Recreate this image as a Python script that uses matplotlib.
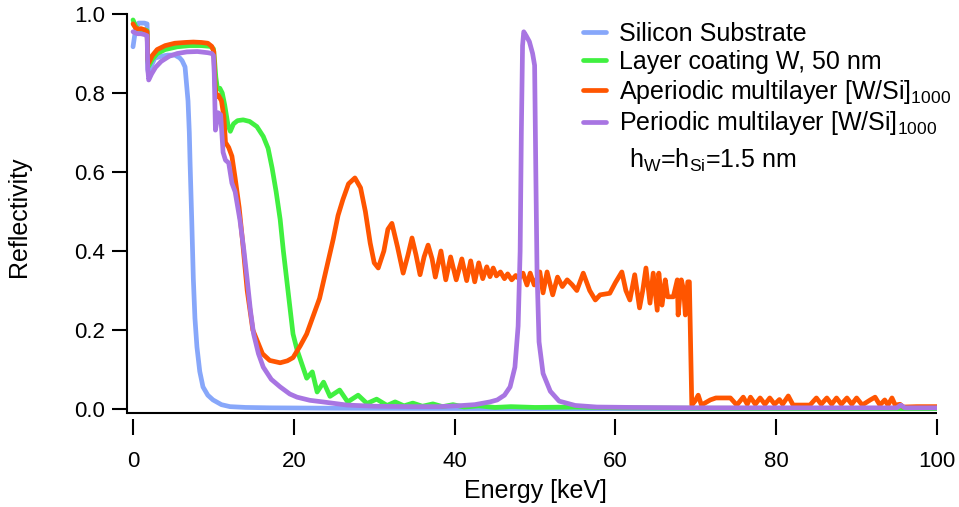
import matplotlib
matplotlib.use("Agg")
import matplotlib.pyplot as plt

plt.rcParams["font.family"] = ["Liberation Sans", "DejaVu Sans"]
plt.rcParams["mathtext.fontset"] = "custom"
plt.rcParams["mathtext.rm"] = "Liberation Sans"
plt.rcParams["mathtext.it"] = "Liberation Sans:italic"
plt.rcParams["mathtext.bf"] = "Liberation Sans:bold"

# ---- reflectivity curves (energy in keV) ----
si_e = [0, 0.2, 0.4, 0.7, 1.0, 1.4, 1.75, 1.84, 1.95, 2.2, 2.7, 3.5, 4.3, 5.2, 5.8,
        6.1, 6.47, 6.84, 7.0, 7.1, 7.3, 7.5, 7.7, 7.95, 8.3, 8.7, 9.3, 9.95, 11.0,
        12.06, 14.0, 17.0, 25.0, 35.0, 50.0, 70.0, 100.0]
si_r = [0.917, 0.945, 0.97, 0.977, 0.977, 0.977, 0.975, 0.86, 0.845, 0.865, 0.888,
        0.893, 0.896, 0.896, 0.889, 0.882, 0.866, 0.78, 0.70, 0.62, 0.48, 0.33, 0.23,
        0.157, 0.095, 0.056, 0.035, 0.023, 0.011, 0.006, 0.004, 0.003, 0.002, 0.0015,
        0.001, 0.001, 0.001]

w_e = [0, 0.3, 0.6, 1.0, 1.4, 1.75, 1.84, 1.95, 2.4, 3.0, 4.0, 5.5, 7.0, 8.5, 9.6,
       10.0, 10.15, 10.3, 10.5, 10.8, 11.1, 11.4, 11.8, 12.1, 12.5, 13.0, 13.7, 14.5,
       15.4, 16.2, 16.8, 17.3, 17.8, 18.3, 18.7, 19.1, 19.5, 19.9, 20.4, 20.9, 21.6,
       22.3, 22.9, 23.7, 24.5, 25.7, 26.7, 28.0, 29.1, 30.3, 31.6, 32.6, 33.7, 34.8,
       36.0, 37.3, 38.5, 39.8, 41.2, 43.0, 45.0, 47.0, 50.0, 55.0, 60.0, 70.0, 100.0]
w_r = [0.985, 0.97, 0.962, 0.96, 0.96, 0.958, 0.88, 0.868, 0.885, 0.9, 0.91, 0.917,
       0.92, 0.92, 0.918, 0.912, 0.88, 0.84, 0.81, 0.812, 0.80, 0.77, 0.72, 0.703,
       0.722, 0.73, 0.732, 0.728, 0.715, 0.69, 0.66, 0.61, 0.55, 0.48, 0.40, 0.33,
       0.26, 0.19, 0.15, 0.12, 0.078, 0.094, 0.043, 0.068, 0.032, 0.048, 0.018,
       0.035, 0.014, 0.025, 0.009, 0.018, 0.008, 0.015, 0.007, 0.013, 0.006, 0.011,
       0.005, 0.008, 0.004, 0.006, 0.004, 0.005, 0.003, 0.002, 0.001]

ap_e = [0, 0.3, 0.6, 1.0, 1.4, 1.75, 1.84, 1.95, 2.4, 3.0, 4.0, 5.2, 6.5, 7.5, 8.5,
        9.3, 9.8, 10.05, 10.2, 10.35, 10.6, 11.0, 11.3, 11.5, 11.9, 12.3, 12.7, 13.2,
        13.6, 14.2, 14.9, 16.1, 17.0, 18.3, 19.2, 19.9, 20.8, 21.6, 22.4, 23.2, 24.1,
        24.9, 25.5, 26.1, 26.8, 27.6, 28.3, 28.9, 29.5, 30.0, 30.5, 31.2, 31.7, 32.2,
        32.9, 33.6, 34.2, 34.7, 35.2, 35.7, 36.2, 36.7, 37.2, 37.6, 38.3, 38.9, 39.5,
        40.2, 40.9, 41.5, 42.0, 42.5, 43.0, 43.5, 44.0, 44.4, 44.8, 45.2, 45.7, 46.2,
        46.6, 47.1, 47.6, 48.0, 48.5, 49.0, 49.4, 49.9, 50.6, 51.0, 51.5, 52.2, 52.8,
        53.4, 54.0, 54.6, 55.2, 56.0, 56.8, 57.5, 58.1, 59.3, 60.0, 60.8, 61.3, 61.8,
        62.4, 63.0, 63.4, 63.8, 64.3, 64.7, 65.2, 65.4, 65.8, 66.2, 66.5, 67.2, 67.5,
        67.7, 67.8, 68.2, 68.5, 68.7, 69.0, 69.2, 69.5, 69.9, 70.3, 70.7, 71.8, 72.5,
        74.3, 75.1, 75.9, 76.4, 76.8, 77.4, 78.0, 78.6, 79.2, 79.8, 80.4, 80.8, 81.5,
        82.1, 83.3, 84.2, 85.0, 85.6, 86.3, 86.9, 87.5, 88.1, 88.8, 89.4, 90.0, 90.7,
        91.7, 92.3, 92.9, 93.5, 93.9, 94.4, 94.8, 95.4, 95.8, 97.5, 100.0]
ap_r = [0.975, 0.965, 0.962, 0.963, 0.96, 0.955, 0.885, 0.876, 0.895, 0.91, 0.92,
        0.926, 0.928, 0.929, 0.928, 0.926, 0.918, 0.905, 0.82, 0.79, 0.795, 0.78,
        0.74, 0.675, 0.662, 0.64, 0.585, 0.51, 0.43, 0.30, 0.20, 0.14, 0.123, 0.117,
        0.122, 0.13, 0.16, 0.19, 0.235, 0.28, 0.36, 0.43, 0.49, 0.53, 0.57, 0.585,
        0.56, 0.50, 0.42, 0.37, 0.357, 0.40, 0.455, 0.47, 0.41, 0.344, 0.39, 0.433,
        0.39, 0.34, 0.385, 0.415, 0.38, 0.334, 0.40, 0.327, 0.385, 0.327, 0.38, 0.325,
        0.375, 0.322, 0.37, 0.33, 0.36, 0.335, 0.357, 0.337, 0.347, 0.33, 0.342,
        0.327, 0.338, 0.33, 0.344, 0.314, 0.344, 0.314, 0.347, 0.294, 0.347, 0.289,
        0.334, 0.31, 0.327, 0.315, 0.30, 0.344, 0.30, 0.276, 0.289, 0.293, 0.32,
        0.347, 0.30, 0.276, 0.34, 0.256, 0.30, 0.357, 0.268, 0.344, 0.25, 0.344,
        0.263, 0.327, 0.284, 0.284, 0.31, 0.327, 0.238, 0.327, 0.30, 0.238, 0.322,
        0.322, 0.01, 0.02, 0.035, 0.01, 0.023, 0.028, 0.028, 0.01, 0.03, 0.012, 0.03,
        0.012, 0.028, 0.012, 0.028, 0.012, 0.024, 0.012, 0.033, 0.01, 0.01, 0.01,
        0.028, 0.012, 0.028, 0.012, 0.028, 0.012, 0.028, 0.012, 0.028, 0.01, 0.023,
        0.03, 0.01, 0.023, 0.01, 0.028, 0.01, 0.012, 0.005, 0.006, 0.006]

pm_e = [0, 0.3, 0.6, 1.0, 1.4, 1.75, 1.84, 1.95, 2.3, 2.8, 3.5, 4.5, 5.5, 6.7, 8.0,
        9.3, 9.8, 10.0, 10.1, 10.25, 10.6, 10.9, 11.2, 11.5, 11.9, 12.3, 12.7, 13.3,
        13.8, 14.2, 14.6, 15.0, 15.6, 16.2, 17.2, 18.3, 19.5, 20.4, 22.0, 23.6, 26.6,
        30.0, 35.0, 38.0, 40.3, 42.5, 44.4, 45.3, 46.2, 46.9, 47.5, 47.9, 48.15, 48.3,
        48.45, 48.6, 48.9, 49.3, 49.7, 49.95, 50.1, 50.25, 50.5, 51.0, 51.9, 53.0,
        55.0, 57.7, 62.0, 70.0, 80.0, 90.0, 95.0, 95.5, 96.0, 100.0]
pm_r = [0.955, 0.952, 0.95, 0.95, 0.948, 0.945, 0.86, 0.833, 0.848, 0.865, 0.88,
        0.893, 0.9, 0.904, 0.905, 0.902, 0.9, 0.895, 0.85, 0.706, 0.75, 0.745, 0.65,
        0.63, 0.623, 0.572, 0.55, 0.478, 0.40, 0.327, 0.25, 0.19, 0.14, 0.106, 0.075,
        0.056, 0.038, 0.03, 0.022, 0.018, 0.01, 0.007, 0.006, 0.006, 0.008, 0.011,
        0.018, 0.023, 0.035, 0.056, 0.106, 0.21, 0.40, 0.70, 0.92, 0.955, 0.945,
        0.93, 0.90, 0.87, 0.6, 0.35, 0.17, 0.09, 0.045, 0.02, 0.009, 0.005, 0.004,
        0.003, 0.003, 0.003, 0.003, 0.01, 0.003, 0.003]

labels = ["Silicon Substrate",
          "Layer coating W, 50 nm",
          r"Aperiodic multilayer [W/Si]$_\mathrm{1000}$",
          r"Periodic multilayer [W/Si]$_\mathrm{1000}$"]
colors = ["#87A7FA", "#40F040", "#FF5500", "#A875E2"]
x_ticks = [0, 20, 40, 60, 80, 100]
y_ticks = [0.0, 0.2, 0.4, 0.6, 0.8, 1.0]

W, H = 959, 507
fig = plt.figure(figsize=(W / 100, H / 100), dpi=100)
left, right, top, bottom = 127, 937, 14, 413
ax = fig.add_axes([left / W, 1 - bottom / H, (right - left) / W, (bottom - top) / H])

lw = 3.4
series = [(si_e, si_r), (w_e, w_r), (ap_e, ap_r), (pm_e, pm_r)]
for (e, r), c, lab in zip(series, colors, labels):
    ax.plot(e, r, color=c, lw=lw, label=lab, solid_joinstyle="round",
            solid_capstyle="round")

ax.set_xlim(-0.75, 100)
ax.set_ylim(-0.0101, 1.0)
ax.set_xticks(x_ticks)
ax.set_xticklabels([f"{v:d}" for v in x_ticks])
ax.set_yticks(y_ticks)
ax.set_yticklabels([f"{v:.1f}" for v in y_ticks])

for s in ("top", "right"):
    ax.spines[s].set_visible(False)
ax.spines["left"].set_linewidth(1.5)
# detached tick row under the energy axis line
ax.spines["bottom"].set_position(("outward", 4))
ax.spines["bottom"].set_visible(False)
ax.plot([0, 1], [0, 0], transform=ax.transAxes, color="black", lw=1.5,
        clip_on=False, solid_capstyle="butt")

ax.tick_params(axis="x", direction="out", length=11.5, width=1.5, pad=12,
               labelsize=16)
ax.tick_params(axis="y", direction="out", length=11, width=1.5, pad=5,
               labelsize=16)

fig.text(535 / W, 1 - 491 / H, "Energy [keV]", fontsize=18,
         ha="center", va="center")
fig.text(19 / W, 1 - 217 / H, "Reflectivity", fontsize=18,
         ha="center", va="center", rotation=90)

leg = ax.legend(loc="upper left", bbox_to_anchor=(583 / W, 1 - 22 / H),
                bbox_transform=fig.transFigure, frameon=False, fontsize=18,
                handlelength=0.9, handletextpad=0.55, labelspacing=0.15,
                borderpad=0, borderaxespad=0)
fig.text(629 / W, 1 - 160 / H, r"h$_\mathrm{W}$=h$_\mathrm{Si}$=1.5 nm",
         fontsize=18, va="center", ha="left")

fig.savefig("out.png", dpi=100)
